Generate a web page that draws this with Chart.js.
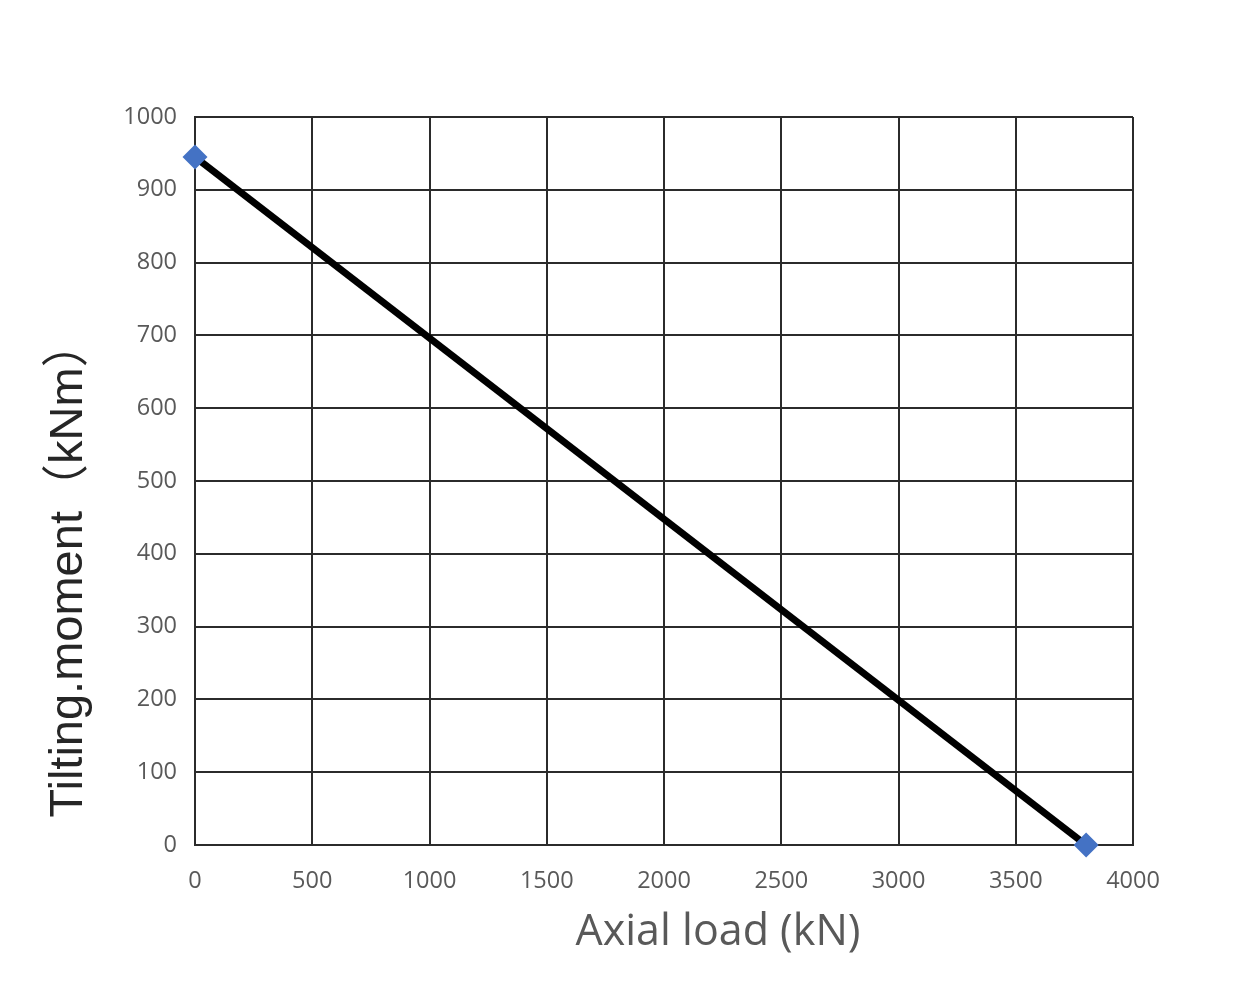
<!DOCTYPE html>
<html>
<head>
<meta charset="utf-8">
<script src="https://cdn.jsdelivr.net/npm/chart.js@4"></script>
<style>
  html, body { margin: 0; padding: 0; background: #ffffff; }
  #wrap { width: 1260px; height: 990px; }
</style>
</head>
<body>
<div id="wrap"><canvas id="loadChart" width="1260" height="990"></canvas></div>
<script>
// load curve end points
const axialLoad = [0, 3800];
const tiltMoment = [945, 0];

const xTicks = [0, 500, 1000, 1500, 2000, 2500, 3000, 3500, 4000];
const yTicks = [0, 100, 200, 300, 400, 500, 600, 700, 800, 900, 1000];

const xTitle = 'Axial load (kN)';
const yTitle = 'Tilting.moment（kNm）';

const points = axialLoad.map((x, i) => ({ x: x, y: tiltMoment[i] }));

// axis titles sit off-centre in the original, so draw them by hand
const axisTitles = {
    id: 'axisTitles',
    afterDraw(chart) {
        const c = chart.ctx;
        const area = chart.chartArea;
        c.save();
        c.textAlign = 'center';
        c.textBaseline = 'middle';

        c.fillStyle = '#595959';
        c.font = '43px "Open Sans"';
        c.fillText(xTitle, area.left + 523, area.bottom + 88);

        c.translate(area.left - 126, area.top + 452);
        c.rotate(-Math.PI / 2);
        c.fillStyle = '#262626';
        c.font = '47px "Liberation Sans", "Noto Sans CJK SC"';
        c.fillText(yTitle, 0, 0);
        c.restore();
    }
};

const ctx = document.getElementById('loadChart').getContext('2d');

const loadChart = new Chart(ctx, {
    type: 'scatter',
    data: {
        datasets: [{
            label: 'Load curve',
            data: points,
            showLine: true,
            clip: false,
            borderColor: '#000000',
            borderWidth: 7,
            pointStyle: 'rectRot',
            pointRadius: 12.5,
            pointHoverRadius: 12.5,
            pointBackgroundColor: '#4472C4',
            pointBorderColor: '#4472C4',
            pointBorderWidth: 0,
            tension: 0
        }]
    },
    options: {
        responsive: false,
        animation: false,
        layout: {
            padding: { top: 117, right: 127, left: 0, bottom: 0 }
        },
        plugins: {
            legend: { display: false },
            tooltip: { enabled: false }
        },
        scales: {
            x: {
                type: 'linear',
                min: 0,
                max: 4000,
                afterBuildTicks: (scale) => { scale.ticks = xTicks.map(v => ({ value: v })); },
                afterFit: (scale) => { scale.height = 145; },
                grid: { color: '#2b2b2b', lineWidth: 2, drawTicks: false },
                border: { color: '#2b2b2b', width: 2 },
                ticks: {
                    color: '#595959',
                    padding: 22,
                    font: { family: 'Open Sans', size: 23.5 },
                    callback: (v) => String(v)
                }
            },
            y: {
                type: 'linear',
                min: 0,
                max: 1000,
                afterBuildTicks: (scale) => { scale.ticks = yTicks.map(v => ({ value: v })); },
                afterFit: (scale) => { scale.width = 195; },
                grid: { color: '#2b2b2b', lineWidth: 2, drawTicks: false },
                border: { color: '#2b2b2b', width: 2 },
                ticks: {
                    color: '#595959',
                    padding: 18,
                    font: { family: 'Open Sans', size: 23.5 },
                    callback: (v) => String(v)
                }
            }
        }
    },
    plugins: [axisTitles]
});
</script>
</body>
</html>
